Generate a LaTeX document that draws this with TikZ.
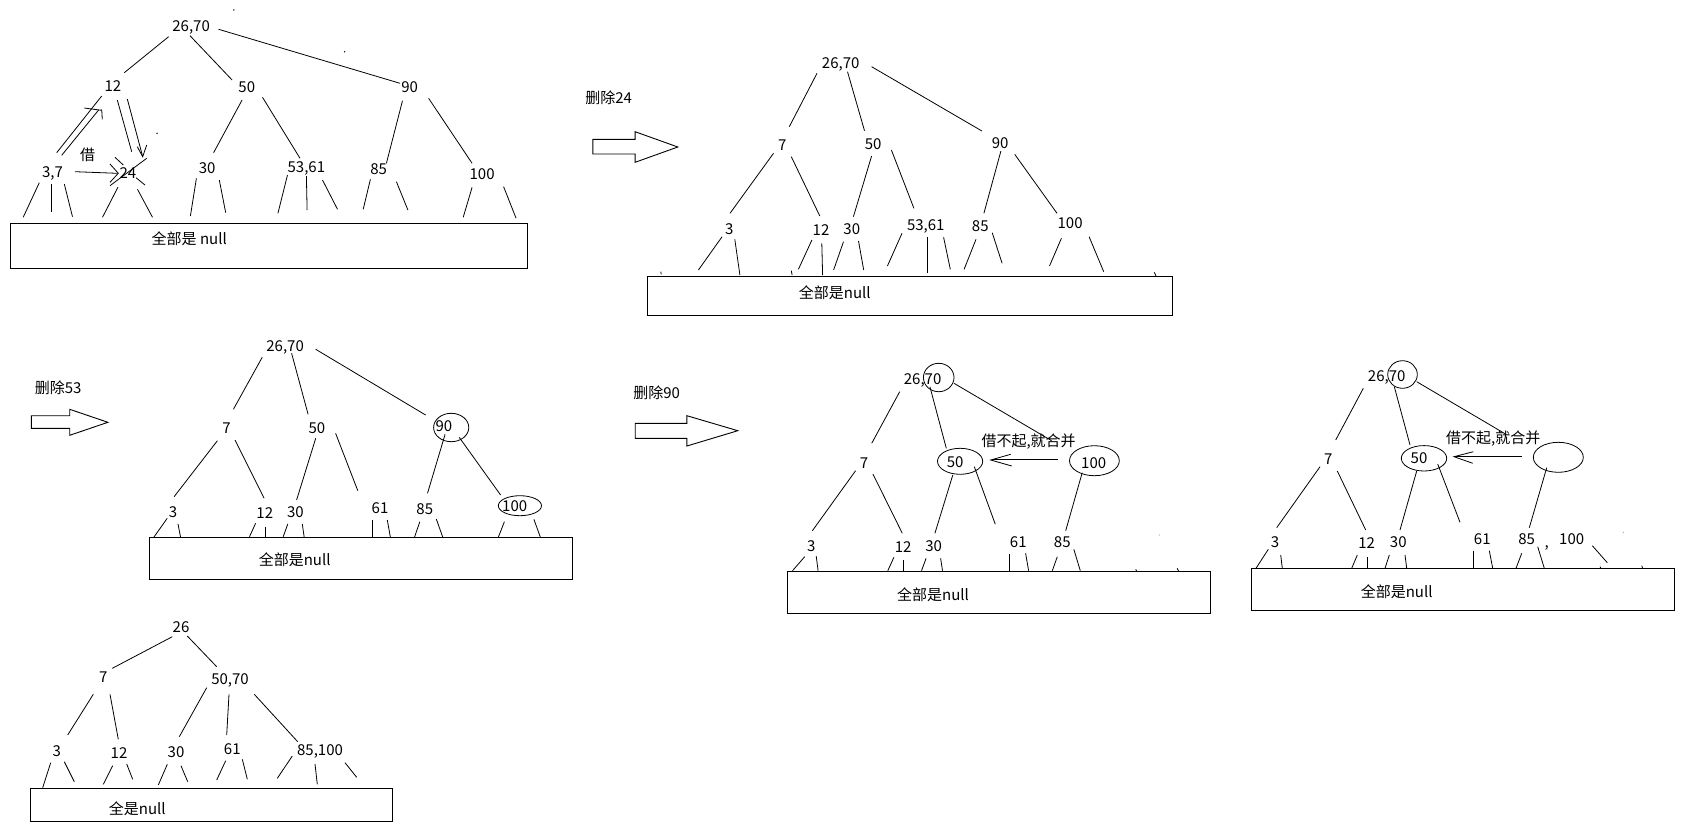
\documentclass[tikz,border=0pt]{standalone}
\usepackage{fontspec}
\setmainfont{Noto Sans CJK SC}
\usetikzlibrary{shapes.geometric}
\definecolor{dotorange}{RGB}{230,150,60}
\begin{document}
\begin{tikzpicture}[x=1pt,y=-1pt,line width=0.8pt,
  lbl/.style={inner sep=0pt,text height=11pt,text depth=0pt,font=\fontsize{15}{18}\selectfont},
  ell/.style={draw,ellipse,inner sep=0pt,line width=0.8pt},
  nullbox/.style={draw,line width=0.9pt},
  blockarrow/.style={draw,line width=0.9pt,line join=miter}]
\useasboundingbox (0,0) rectangle (1683,825);

%% ---------- Panel 1 ----------
\node[lbl] (p1r) at (191.1,25.7) {26,70};
\node[lbl] (p1a) at (112.9,86) {12};
\node[lbl] (p1b) at (246.8,86.7) {50};
\node[lbl] (p1c) at (409.6,86.7) {90};
\node[lbl] (p1d) at (52.5,171.7) {3,7};
\node[lbl] (p1e) at (127.9,172.7) {24};
\node[lbl] (p1f) at (207.1,167.7) {30};
\node[lbl] (p1g) at (306.4,166.7) {53,61};
\node[lbl] (p1h) at (378.6,169.3) {85};
\node[lbl] (p1i) at (482.1,174.3) {100};
\node[lbl] (p1j) at (87.5,155) {借};
\draw (168.6,36.7)--(124.3,72.7);
\draw (190,35.7)--(232.1,80);
\draw (218.6,29.3)--(400,83.3);
\draw (101.7,96)--(56.7,152.7);
\draw (61.7,155.3)--(98.8,109.8);
\draw (84.3,108)--(101.7,110.3);
\draw (101.7,109.3)--(102.3,119.3);
\draw (117.3,100)--(131.7,151.7);
\draw (127.3,99)--(142.7,156.7);
\draw (137.3,146.7)--(142.7,156.7)--(146.7,145);
\draw (75,171.7)--(117.3,173.3);
\draw (110,164)--(118.3,173.3)--(110,182.3);
\draw (110,185.7)--(146.7,158.3);
\draw (115,157.3)--(123.3,165);
\draw (136,177.7)--(145,185);
\draw (242.1,100)--(213.6,152.7);
\draw (262.5,97.3)--(300,158.3);
\draw (402.5,100.7)--(386.4,163.3);
\draw (428.6,98.3)--(472.1,163.3);
\draw (39.3,182.7)--(23.2,217.3);
\draw (51.8,184)--(51.8,211.7);
\draw (64.3,184)--(72.5,216.7);
\draw (117.9,187.3)--(102.5,217.3);
\draw (137.5,189.3)--(152.5,217.3);
\draw (196.4,178.3)--(190.4,216);
\draw (219.3,180)--(225.7,212.7);
\draw (287.5,175)--(277.9,213.3);
\draw (306.4,176)--(307.1,210);
\draw (322.5,180)--(337.5,209.3);
\draw (370.4,179.3)--(363.2,209.3);
\draw (396.4,181.7)--(407.9,210);
\draw (472.1,187.3)--(463.2,217.3);
\draw (503.6,186.7)--(516.1,218.3);
\fill (233.9,10) circle (0.8);
\fill (344.6,51.7) circle (0.8);
\fill (157.1,133.3) circle (0.8);
\draw[nullbox] (10.7,223.3) rectangle (527.5,268.3);
\node[lbl] (p1n) at (189.3,239.3) {全部是 null};

%% ---------- Panel 2 ----------
\node[lbl] (p2l) at (608.6,97.7) {删除24};
\draw[blockarrow] (592.8,139.3)--(635.1,139.3)--(635.1,131.7)--(677.8,147)--(635.1,162.3)--(635.1,154)--(592.8,154)--cycle;
\node[lbl] (p2r) at (840.7,62.7) {26,70};
\node[lbl] (p2a) at (782.2,145) {7};
\node[lbl] (p2b) at (873.2,144.3) {50};
\node[lbl] (p2c) at (1000.1,142.7) {90};
\node[lbl] (p2d) at (729.2,228.7) {3};
\node[lbl] (p2e) at (821,230) {12};
\node[lbl] (p2f) at (851.8,229) {30};
\node[lbl] (p2g) at (925.8,225) {53,61};
\node[lbl] (p2h) at (980.3,225.7) {85};
\node[lbl] (p2i) at (1070.1,223.3) {100};
\draw (817,73.3)--(789.3,126.7);
\draw (847.5,71.7)--(864.5,130.7);
\draw (871.6,66.7)--(981.9,131);
\draw (773.5,153.3)--(730,213.3);
\draw (791.3,156.7)--(819.8,216);
\draw (871.6,156)--(853.4,216.7);
\draw (891.4,150)--(913.9,208.3);
\draw (1000.9,151)--(983.9,213.3);
\draw (1014.7,154.3)--(1057,213.3);
\draw (722.1,236.7)--(698.4,270);
\draw (734.8,239.3)--(739.9,275);
\draw (660.8,271.7)--(661.2,274.3);
\draw (791.3,270.7)--(792.1,275);
\draw (1154.3,272.3)--(1155.9,275.7);
\draw (811.9,240)--(798.4,269.3);
\draw (821.8,243.3)--(822.6,275);
\draw (843.5,241.7)--(833.6,270);
\draw (858.5,241)--(863.7,270);
\draw (902,233.3)--(887.4,266);
\draw (927.7,237.3)--(927.7,273.3);
\draw (943.6,237.3)--(950.3,269.3);
\draw (976,239.3)--(964.1,269.3);
\draw (992.2,232.7)--(1002.1,263.3);
\draw (1061.4,238.3)--(1049.5,266);
\draw (1089.1,236.7)--(1103.7,271.7);
\draw[nullbox] (647,276) rectangle (1172.1,315.3);
\node[lbl] (p2n) at (834.8,293.3) {全部是null};

%% ---------- Panel 3 ----------
\node[lbl] (p3l) at (58.2,387.7) {删除53};
\draw[blockarrow] (31.4,415.7)--(69.7,415.7)--(69.7,409.3)--(107.9,422.3)--(69.7,435.3)--(69.7,428.3)--(31.4,428.3)--cycle;
\node[lbl] (p3r) at (285.1,345.7) {26,70};
\node[lbl] (p3a) at (226.6,428.3) {7};
\node[lbl] (p3b) at (316.9,427.7) {50};
\node[lbl] (p3c) at (443.9,426) {90};
\node[ell,minimum width=35.2pt,minimum height=28.4pt] (p3ce) at (451.2,427.5) {};
\node[lbl] (p3d) at (173,511.7) {3};
\node[lbl] (p3e) at (264.8,512.7) {12};
\node[lbl] (p3f) at (295.4,511.7) {30};
\node[lbl] (p3g) at (380,507.7) {61};
\node[lbl] (p3h) at (424.8,509) {85};
\node[lbl] (p3i) at (514.7,506) {100};
\node[ell,minimum width=43.2pt,minimum height=20pt] (p3ie) at (519.9,505.7) {};
\draw (262.2,357.3)--(233.4,409.3);
\draw (291.6,353.3)--(308.1,414.3);
\draw (315.7,349.3)--(425.6,415);
\draw (217.4,440.7)--(174.1,496.7);
\draw (235,440)--(264.1,498.3);
\draw (315.7,438.3)--(296.6,500);
\draw (335.6,433.3)--(357.8,490.7);
\draw (445.1,434.3)--(427.5,493.3);
\draw (459.2,437.3)--(500.6,495);
\draw (167.2,518.3)--(153.8,537.3);
\draw (178,524)--(180.6,537.3);
\draw (255.6,523.3)--(249.5,536.7);
\draw (265.2,526.7)--(265.2,537.3);
\draw (287.8,524)--(283.2,536.7);
\draw (302.3,524)--(304.2,537.3);
\draw (372,520)--(372,537.3);
\draw (387.3,520)--(390.4,537.3);
\draw (419.8,521.7)--(414.5,537.3);
\draw (436.3,519)--(442.8,537.3);
\draw (504.4,521.7)--(498.3,537.3);
\draw (533.9,519.3)--(540.4,537.3);
\draw[nullbox] (149.3,537.3) rectangle (572.5,579.3);
\node[lbl] (p3n) at (294.7,560) {全部是null};

%% ---------- Panel 4 ----------
\node[lbl] (p4l) at (656.6,393.3) {删除90};
\draw[blockarrow] (635.2,423.3)--(686.9,423.3)--(686.9,415.7)--(737.8,430.7)--(686.9,446)--(686.9,438.3)--(635.2,438.3)--cycle;
\node[lbl] (p4r) at (922.6,379.3) {26,70};
\node[ell,minimum width=30.6pt,minimum height=28.4pt] (p4re) at (938.7,377.5) {};
\draw (899.7,391.7)--(871.7,443.3);
\draw (929.9,386.7)--(946.3,448.3);
\draw (954,383.3)--(1051.6,440.7);
\node[lbl] (p4t) at (1028.6,440.7) {借不起,就合并};
\node[lbl] (p4a) at (864.1,462.7) {7};
\node[lbl] (p4b) at (955.1,461.7) {50};
\node[ell,minimum width=45.2pt,minimum height=26pt] (p4be) at (960.1,461.3) {};
\node[lbl] (p4c) at (1093.7,463.3) {100};
\node[ell,minimum width=49.8pt,minimum height=30pt] (p4ce) at (1094.4,460.7) {};
\draw (1058.1,459.7)--(992,459.7);
\draw (1010.7,454.3)--(990.7,460)--(1011.7,466);
\node[lbl] (p4d) at (811.3,545.7) {3};
\node[lbl] (p4e) at (903.1,546.7) {12};
\node[lbl] (p4f) at (933.7,545.7) {30};
\node[lbl] (p4g) at (1018.3,541.7) {61};
\node[lbl] (p4h) at (1062.3,542.3) {85};
\draw (952.8,475)--(934.9,533.3);
\draw (974.3,466.7)--(995.3,524.3);
\draw (1082.2,472.7)--(1065.7,530.7);
\draw (855.6,470.7)--(812.4,530.7);
\draw (872.9,474)--(902.3,533.3);
\draw (804.7,556.7)--(792.5,570.7);
\draw (816.2,556)--(818.1,570.7);
\draw (893.9,557.3)--(887.8,570.7);
\draw (903.5,560)--(903.5,570.7);
\draw (926.1,558.3)--(921.5,570.7);
\draw (940.6,558.3)--(942.5,570.7);
\draw (1009.5,554)--(1009.5,570.7);
\draw (1025.6,553.3)--(1028.6,570.7);
\draw (1057.3,556.7)--(1052.3,570.7);
\draw (1073.8,549.3)--(1080.3,570.7);
\draw (1135.8,569.3)--(1136.5,571);
\draw (1177.1,568.3)--(1178.6,571);
\fill[dotorange] (1159.5,535) circle (0.7);
\draw[nullbox] (787.5,571) rectangle (1210.7,613.3);
\node[lbl] (p4n) at (933,595) {全部是null};

%% ---------- Panel 5 ----------
\node[lbl] (p5r) at (1386.7,376) {26,70};
\node[ell,minimum width=29.6pt,minimum height=27.6pt] (p5re) at (1402.5,374.5) {};
\draw (1363.3,388.3)--(1335.7,440);
\draw (1394.3,386.7)--(1410,445);
\draw (1416.7,381.7)--(1506,434.3);
\node[lbl] (p5t) at (1493.3,438.3) {借不起,就合并};
\node[lbl] (p5a) at (1328.3,459) {7};
\node[lbl] (p5b) at (1419,458.3) {50};
\node[ell,minimum width=45.4pt,minimum height=25.4pt] (p5be) at (1424,458.3) {};
\node[ell,minimum width=50pt,minimum height=30pt] (p5ce) at (1558.3,457.3) {};
\draw (1521.7,456.3)--(1455,456.3);
\draw (1473.3,451.7)--(1454,456.7)--(1472.7,463.3);
\draw (1320,466.7)--(1276.7,527.7);
\draw (1337.3,471)--(1365.7,530);
\draw (1416.7,471)--(1400,530);
\draw (1437.7,464)--(1460,522.3);
\draw (1546.7,467.7)--(1529.3,527.7);
\node[lbl] (p5d) at (1275,542.3) {3};
\node[lbl] (p5e) at (1366.7,543.3) {12};
\node[lbl] (p5f) at (1398.3,542.3) {30};
\node[lbl] (p5g) at (1482.3,539) {61};
\node[lbl] (p5h) at (1526.7,539.3) {85};
\node[lbl] (p5k) at (1546.7,541.7) {,};
\node[lbl] (p5i) at (1571.7,539) {100};
\fill[dotorange] (1623.3,532.3) circle (0.7);
\draw (1268.3,549.3)--(1256,568.3);
\draw (1280.7,555)--(1282.3,568.3);
\draw (1357.3,555)--(1351.7,568.3);
\draw (1367.3,557.3)--(1367.3,568.3);
\draw (1389.3,555)--(1385,568.3);
\draw (1405,555)--(1406.7,568.3);
\draw (1473.3,550.7)--(1473.3,568.3);
\draw (1489.3,550.7)--(1492.7,568.3);
\draw (1521.7,553.3)--(1516,568.3);
\draw (1537.7,546.7)--(1544.3,568.3);
\draw (1592.3,545.7)--(1607.3,562.7);
\draw (1600,566.7)--(1601,568.3);
\draw (1641.7,565.7)--(1642.7,568.3);
\draw[nullbox] (1251,568.3) rectangle (1674.3,610);
\node[lbl] (p5n) at (1396.7,591.7) {全部是null};

%% ---------- Panel 6 ----------
\node[lbl] (p6r) at (181,626.7) {26};
\node[lbl] (p6a) at (103.3,677.3) {7};
\node[lbl] (p6b) at (230,679.3) {50,70};
\node[lbl] (p6d) at (56.7,750.7) {3};
\node[lbl] (p6e) at (119,752.7) {12};
\node[lbl] (p6f) at (176,751.7) {30};
\node[lbl] (p6g) at (232.3,749) {61};
\node[lbl] (p6h) at (320,750) {85,100};
\draw (172.3,636.7)--(112.3,668.3);
\draw (187.3,636)--(216.7,666.7);
\draw (93.3,694.3)--(67.7,735);
\draw (110,694.3)--(118.3,739.3);
\draw (206.7,687.7)--(179.3,736.7);
\draw (229,694.3)--(226.7,735);
\draw (254.3,694.3)--(297.7,741.7);
\draw (50.7,762.7)--(42.7,787.7);
\draw (64.3,761.7)--(74.3,781.7);
\draw (112.7,765.7)--(103.3,784.3);
\draw (126.7,764)--(132.7,779.3);
\draw (167.3,764.3)--(158.3,785);
\draw (181,765.7)--(187.7,781.7);
\draw (225.7,760.7)--(216.7,780);
\draw (242.3,759.3)--(247.3,779.3);
\draw (292.3,756)--(277.3,778.3);
\draw (315,764)--(317.3,784.3);
\draw (345,762.7)--(356.7,777.3);
\draw[nullbox] (30.7,788.3) rectangle (392.3,821);
\node[lbl] (p6n) at (137.3,809) {全是null};
\end{tikzpicture}
\end{document}
